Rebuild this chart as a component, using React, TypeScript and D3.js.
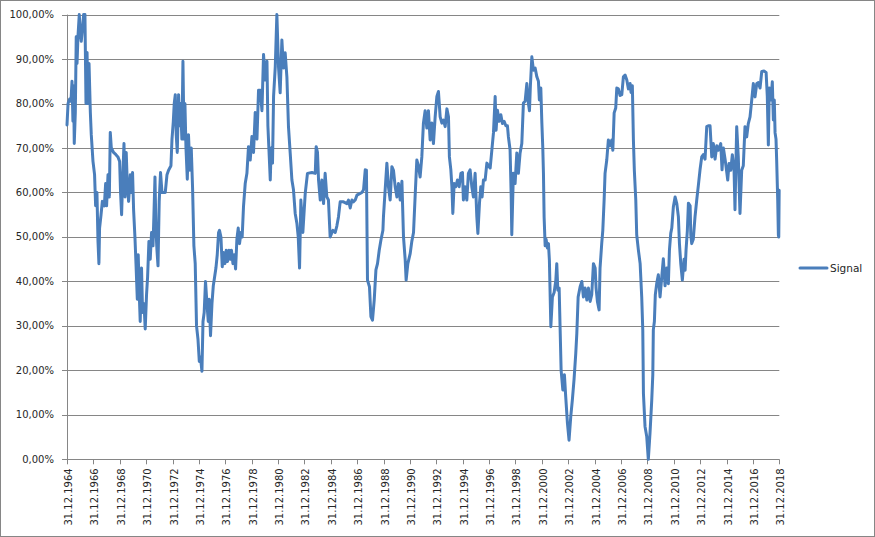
import React from "react";
import * as d3 from "d3";

// Signal series: [decimal year, percent]
const sig1965_1974: [number, number][] = [
  [1965.0, 75.2], [1965.08, 80], [1965.2, 81], [1965.3, 80.5], [1965.38, 85], [1965.45, 76], [1965.5, 84],
  [1965.55, 71], [1965.63, 78], [1965.7, 95], [1965.76, 89], [1965.83, 95], [1965.93, 100], [1966.01, 96],
  [1966.08, 94], [1966.18, 97], [1966.26, 100], [1966.36, 100], [1966.44, 80], [1966.52, 91.5], [1966.59, 80],
  [1966.67, 89], [1966.77, 78], [1966.84, 73], [1966.97, 67], [1967.09, 64], [1967.17, 57], [1967.27, 60],
  [1967.35, 49], [1967.42, 44], [1967.47, 52], [1967.58, 55], [1967.68, 58], [1967.83, 57], [1967.93, 62],
  [1968.0, 57], [1968.11, 64], [1968.21, 59], [1968.28, 73.5], [1968.36, 70], [1968.53, 69], [1968.71, 68.5],
  [1968.86, 68], [1968.99, 67], [1969.06, 60], [1969.14, 55], [1969.21, 62], [1969.32, 71], [1969.4, 59],
  [1969.49, 69], [1969.57, 62], [1969.67, 58], [1969.8, 64], [1969.9, 60], [1969.97, 64.5], [1970.05, 56],
  [1970.15, 50], [1970.23, 44], [1970.33, 36], [1970.4, 46], [1970.48, 37], [1970.55, 31], [1970.65, 43],
  [1970.73, 33], [1970.84, 35], [1970.93, 29.3], [1971.03, 37], [1971.11, 41], [1971.21, 49], [1971.31, 45],
  [1971.41, 51], [1971.52, 48], [1971.59, 55], [1971.67, 63.5], [1971.74, 52], [1971.82, 47], [1971.9, 43.5],
  [1971.99, 58], [1972.09, 64.5], [1972.2, 60], [1972.45, 60], [1972.58, 64], [1972.7, 65], [1972.88, 66],
  [1972.96, 72], [1973.06, 76], [1973.13, 80], [1973.21, 82], [1973.28, 73], [1973.36, 69], [1973.46, 82],
  [1973.53, 75], [1973.61, 80], [1973.71, 72], [1973.79, 89.5], [1973.87, 72], [1973.94, 80], [1974.02, 70],
  [1974.12, 63], [1974.21, 73], [1974.32, 65], [1974.42, 70], [1974.52, 61], [1974.62, 48], [1974.72, 44],
  [1974.82, 30], [1974.93, 27],
];

const sig1975_1984: [number, number][] = [
  [1975.03, 22], [1975.12, 23], [1975.23, 19.8], [1975.31, 31], [1975.4, 33], [1975.5, 40], [1975.61, 35],
  [1975.71, 31], [1975.78, 36], [1975.88, 27.8], [1975.99, 35], [1976.09, 39], [1976.19, 41], [1976.29, 43],
  [1976.39, 46], [1976.49, 51], [1976.56, 51.5], [1976.67, 50], [1976.77, 43.3], [1976.87, 46.5], [1976.97, 44],
  [1977.07, 47], [1977.17, 44.5], [1977.28, 47], [1977.38, 45], [1977.47, 47], [1977.58, 44], [1977.68, 46],
  [1977.78, 42.8], [1977.88, 49.5], [1977.98, 52], [1978.08, 48.5], [1978.19, 51], [1978.28, 50], [1978.38, 56.8],
  [1978.51, 62], [1978.64, 64.3], [1978.76, 70.3], [1978.89, 67.3], [1979.02, 72.6], [1979.14, 69], [1979.27, 78],
  [1979.4, 72], [1979.52, 83], [1979.65, 83], [1979.78, 78.4], [1979.9, 91], [1980.03, 85.3], [1980.16, 89.5],
  [1980.23, 75], [1980.31, 69.6], [1980.41, 62.8], [1980.48, 70], [1980.58, 66.6], [1980.66, 81.6], [1980.79, 88.3],
  [1980.91, 100], [1981.04, 88], [1981.16, 82.4], [1981.29, 94.3], [1981.41, 88], [1981.54, 91.4], [1981.67, 86],
  [1981.79, 74.8], [1981.92, 68.9], [1982.05, 62.8], [1982.17, 60.6], [1982.3, 55.3], [1982.43, 53], [1982.53, 50],
  [1982.63, 43], [1982.73, 58.3], [1982.88, 51], [1983.06, 59.8], [1983.23, 64.3], [1983.57, 64.5], [1983.82, 64.3],
  [1983.89, 70.3], [1983.99, 69], [1984.07, 62.8], [1984.2, 58.3], [1984.32, 62.8], [1984.45, 57.5], [1984.57, 64.3],
  [1984.7, 59], [1984.82, 58.3], [1984.95, 50],
];

const sig1985_1994: [number, number][] = [
  [1985.16, 51.5], [1985.33, 51], [1985.46, 52.5], [1985.58, 54.5], [1985.71, 57.9], [1985.96, 57.9], [1986.22, 57.5],
  [1986.34, 58.3], [1986.47, 56.5], [1986.6, 58.3], [1986.72, 57.9], [1986.85, 58.3], [1986.98, 59.4], [1987.23, 59.8],
  [1987.36, 60], [1987.48, 60.6], [1987.61, 65.1], [1987.7, 65], [1987.78, 40.3], [1987.93, 38.8], [1988.04, 32.1],
  [1988.16, 31.3], [1988.29, 35.8], [1988.42, 42.6], [1988.54, 44], [1988.67, 47], [1988.8, 49.3], [1988.95, 51.5],
  [1988.99, 54.5], [1989.12, 60.6], [1989.25, 66.6], [1989.37, 61.3], [1989.5, 58.3], [1989.63, 65.8], [1989.75, 65],
  [1989.88, 61.3], [1990.01, 59], [1990.13, 62], [1990.26, 58.3], [1990.39, 62.5], [1990.51, 50], [1990.64, 44.8],
  [1990.71, 40.3], [1990.84, 44], [1991.02, 46.3], [1991.14, 49], [1991.27, 51], [1991.39, 59], [1991.52, 67.3],
  [1991.64, 66], [1991.77, 63.5], [1991.9, 68], [1992.02, 75.6], [1992.15, 78.4], [1992.28, 74.5], [1992.4, 78.4],
  [1992.53, 71.8], [1992.66, 75.6], [1992.78, 71], [1992.91, 77], [1993.04, 81.6], [1993.16, 82.7], [1993.29, 77],
  [1993.42, 75.6], [1993.54, 76.3], [1993.67, 74.8], [1993.8, 78.8], [1993.92, 77], [1993.99, 68], [1994.1, 65.1],
  [1994.18, 61.3], [1994.25, 55.3], [1994.35, 62], [1994.48, 61.3], [1994.6, 62.8], [1994.73, 61.3], [1994.86, 64.3],
  [1994.98, 64.5],
];

const sig1995_2004: [number, number][] = [
  [1995.05, 58.3], [1995.18, 61.3], [1995.31, 58.3], [1995.43, 64.3], [1995.56, 65.1], [1995.69, 61.3], [1995.81, 59],
  [1995.94, 64.3], [1996.07, 54.5], [1996.15, 50.8], [1996.27, 57.6], [1996.37, 61.3], [1996.47, 59], [1996.57, 62.8],
  [1996.7, 62.8], [1996.83, 66.6], [1996.95, 66], [1997.08, 65.5], [1997.21, 69.6], [1997.33, 73.4], [1997.46, 81.6],
  [1997.53, 74], [1997.63, 78.5], [1997.76, 76], [1997.89, 77.5], [1998.01, 75.5], [1998.14, 76], [1998.27, 75],
  [1998.39, 75], [1998.46, 72.6], [1998.59, 69.6], [1998.67, 59.8], [1998.72, 50.5], [1998.84, 64.3], [1998.97, 62],
  [1999.1, 68.9], [1999.22, 64.3], [1999.35, 68.9], [1999.48, 71], [1999.6, 80.1], [1999.73, 80.5], [1999.86, 84.5],
  [1999.98, 80], [2000.06, 78.4], [2000.13, 84], [2000.24, 90.5], [2000.36, 87.5], [2000.49, 88], [2000.62, 86],
  [2000.74, 85], [2000.81, 80.8], [2000.92, 83.5], [2001.0, 75.6], [2001.07, 70], [2001.12, 64.3], [2001.17, 54.5],
  [2001.25, 48], [2001.32, 49.5], [2001.42, 47.5], [2001.5, 48.5], [2001.57, 44.8], [2001.68, 29.8], [2001.8, 36.5],
  [2001.93, 37.5], [2002.06, 40.3], [2002.13, 44], [2002.21, 38], [2002.31, 38.5], [2002.38, 29.8], [2002.46, 20],
  [2002.59, 15.6], [2002.71, 19], [2002.81, 14], [2002.94, 8.1], [2003.06, 4.3], [2003.19, 9.6], [2003.31, 13.3],
  [2003.44, 18], [2003.57, 23.8], [2003.65, 28.3], [2003.75, 36.5], [2003.9, 38.8], [2004.03, 40], [2004.15, 36.5],
  [2004.28, 38.5], [2004.41, 35.8], [2004.53, 38.5], [2004.66, 35.5], [2004.78, 37], [2004.91, 44],
];

const sig2005_2018: [number, number][] = [
  [2005.04, 43], [2005.11, 38.5], [2005.21, 35.5], [2005.34, 33.6], [2005.41, 43], [2005.54, 48.6], [2005.62, 51.5],
  [2005.72, 58.3], [2005.79, 64.3], [2005.92, 67.3], [2006.04, 71.8], [2006.17, 70.5], [2006.3, 71.8], [2006.38, 69.5],
  [2006.48, 77.9], [2006.6, 79], [2006.68, 83.5], [2006.8, 83.3], [2006.93, 81.8], [2007.06, 82], [2007.18, 86],
  [2007.31, 86.4], [2007.44, 85.3], [2007.56, 83.3], [2007.69, 84.5], [2007.76, 82.5], [2007.86, 84], [2007.94, 71.8],
  [2008.01, 65], [2008.12, 58.3], [2008.19, 50.5], [2008.32, 47], [2008.45, 44], [2008.57, 36.5], [2008.65, 29.1],
  [2008.7, 14.8], [2008.82, 7.4], [2008.95, 5.1], [2009.07, 0], [2009.2, 6], [2009.33, 13.3], [2009.41, 19],
  [2009.45, 29.1], [2009.53, 31], [2009.6, 37], [2009.71, 39.6], [2009.83, 41.5], [2009.96, 36.5], [2010.09, 41],
  [2010.21, 45.1], [2010.34, 39], [2010.47, 43], [2010.59, 39.5], [2010.67, 47], [2010.77, 50.8], [2010.85, 52],
  [2010.97, 56.8], [2011.1, 59], [2011.23, 57.5], [2011.35, 54.5], [2011.43, 48.5], [2011.53, 44], [2011.65, 40.3],
  [2011.78, 45], [2011.86, 42.5], [2011.93, 47], [2012.03, 51.5], [2012.11, 57.6], [2012.24, 57], [2012.29, 50.5],
  [2012.36, 48.5], [2012.48, 49.5], [2012.61, 54.5], [2012.74, 58.3], [2012.86, 61.5], [2012.99, 65.1], [2013.12, 68],
  [2013.24, 68.5], [2013.37, 67.5], [2013.5, 74.8], [2013.62, 75], [2013.75, 75], [2013.88, 68], [2014.0, 71],
  [2014.13, 67.5], [2014.26, 70.5], [2014.38, 69.5], [2014.56, 71], [2014.66, 65.1], [2014.76, 70], [2014.89, 67.5],
  [2015.02, 64.5], [2015.09, 62.8], [2015.19, 66.5], [2015.32, 65], [2015.44, 68.5], [2015.57, 65], [2015.64, 56.1],
  [2015.77, 74.8], [2015.89, 68], [2016.02, 55.3], [2016.15, 65], [2016.27, 66], [2016.4, 74.8], [2016.53, 72.5],
  [2016.65, 75.5], [2016.78, 77], [2016.91, 80.8], [2017.03, 84.5], [2017.16, 81.5], [2017.29, 84.5], [2017.41, 84.7],
  [2017.54, 83.5], [2017.67, 87.2], [2017.84, 87.3], [2018.0, 87], [2018.09, 81.6], [2018.17, 70.7], [2018.24, 83.5],
  [2018.37, 80.8], [2018.47, 84.9], [2018.55, 76.3], [2018.62, 80.8], [2018.68, 73.4], [2018.75, 72], [2018.8, 67.3],
  [2018.88, 58.3], [2018.93, 50.4], [2018.96, 50], [2018.99, 60.5],
];

const signal: [number, number][] = [
  ...sig1965_1974, ...sig1975_1984, ...sig1985_1994, ...sig1995_2004, ...sig2005_2018,
];

const xTickYears = [
  1964, 1966, 1968, 1970, 1972, 1974, 1976, 1978, 1980, 1982, 1984, 1986, 1988, 1990,
  1992, 1994, 1996, 1998, 2000, 2002, 2004, 2006, 2008, 2010, 2012, 2014, 2016, 2018,
];
const yTicks = [0, 10, 20, 30, 40, 50, 60, 70, 80, 90, 100];
const seriesName = "Signal";

const W = 875;
const H = 537;
const M = { left: 67, right: 779.3, top: 14.6, bottom: 459.3 };
const FONT = "'DejaVu Sans', Verdana, sans-serif";
const GRID = "#868686";
const TXT = "#262626";
const LINE = "#4A7EBB";

export default function App() {
  React.useEffect(() => {
    document.body.style.margin = "0";
  }, []);

  const x = d3.scaleLinear().domain([1965, 2019]).range([M.left, M.right]);
  const y = d3.scaleLinear().domain([0, 100]).range([M.bottom, M.top]);
  const line = d3
    .line<[number, number]>()
    .x((d) => x(d[0]))
    .y((d) => y(d[1]));

  const fmt = (v: number) => v.toFixed(2).replace(".", ",") + "%";

  return (
    <div style={{ position: "absolute", left: 0, top: 0 }}>
      <svg width={W} height={H} style={{ display: "block" }}>
        <rect x={0} y={0} width={W} height={H} fill="#fff" />
        <rect x={0.5} y={0.5} width={W - 1} height={H - 1} fill="none" stroke={GRID} />
        {yTicks.map((t) => (
          <g key={"y" + t}>
            <line
              x1={M.left - 5}
              x2={M.right}
              y1={Math.round(y(t)) + 0.5}
              y2={Math.round(y(t)) + 0.5}
              stroke={GRID}
              strokeWidth={1}
            />
            <text
              x={54}
              y={y(t)}
              textAnchor="end"
              dominantBaseline="central"
              fontFamily={FONT}
              fontSize={10}
              fill={TXT}
            >
              {fmt(t)}
            </text>
          </g>
        ))}
        <line x1={M.left + 0.5} x2={M.left + 0.5} y1={M.top} y2={M.bottom} stroke={GRID} />
        {xTickYears.map((yr) => {
          const px = Math.round(x(yr + 1)) + 0.5;
          return (
            <g key={"x" + yr}>
              <line x1={px} x2={px} y1={M.bottom} y2={M.bottom + 5} stroke={GRID} />
              <text
                transform={`translate(${x(yr + 1) + 1.5},${M.bottom + 9}) rotate(-90)`}
                textAnchor="end"
                dominantBaseline="central"
                fontFamily={FONT}
                fontSize={10}
                fill={TXT}
              >
                {`31.12.${yr}`}
              </text>
            </g>
          );
        })}
        <path
          d={line(signal) || ""}
          fill="none"
          stroke={LINE}
          strokeWidth={3}
          strokeLinejoin="round"
          strokeLinecap="round"
        />
        <line x1={800} x2={827} y1={268} y2={268} stroke={LINE} strokeWidth={3} strokeLinecap="round" />
        <text x={830} y={268} dominantBaseline="central" fontFamily={FONT} fontSize={10.5} fill={TXT}>
          {seriesName}
        </text>
      </svg>
    </div>
  );
}
